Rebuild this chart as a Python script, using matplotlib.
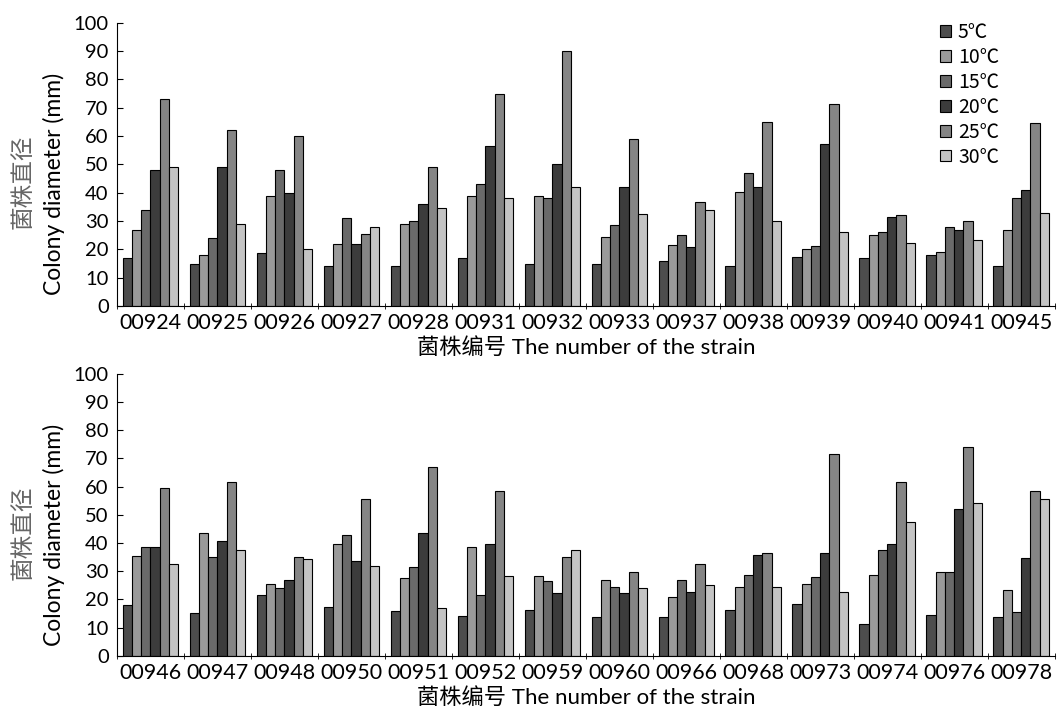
import matplotlib
matplotlib.use("Agg")
import matplotlib.pyplot as plt
import numpy as np

plt.rcParams['font.family'] = ['Lato', 'Noto Sans CJK SC', 'DejaVu Sans']

temps = ['5℃', '10℃', '15℃', '20℃', '25℃', '30℃']
colors = ['#4d4d4d', '#9a9a9a', '#6a6a6a', '#3c3c3c', '#858585', '#c4c4c4']

# top panel
strains_top = ['00924', '00925', '00926', '00927', '00928', '00931', '00932',
               '00933', '00937', '00938', '00939', '00940', '00941', '00945']
t5_top = [17, 15, 18.6, 14, 14, 17, 15, 15, 16, 14, 17.4, 17, 18, 14]
t10_top = [27, 18, 39, 22, 29, 39, 39, 24.5, 21.5, 40.2, 20, 25, 19, 27]
t15_top = [34, 24, 48, 31, 30, 43, 38, 28.5, 25, 47, 21.4, 26, 28, 38]
t20_top = [48, 49, 40, 22, 36, 56.5, 50, 42, 21, 42, 57.4, 31.5, 27, 41]
t25_top = [73, 62, 60, 25.3, 49, 75, 90, 59, 36.7, 65, 71.5, 32, 30, 64.5]
t30_top = [49, 29, 20, 28, 34.6, 38, 42, 32.4, 34, 30.2, 26, 22.2, 23.5, 33]

# bottom panel
strains_bot = ['00946', '00947', '00948', '00950', '00951', '00952', '00959',
               '00960', '00966', '00968', '00973', '00974', '00976', '00978']
t5_bot = [18, 15, 21.4, 17.4, 15.8, 14.2, 16.3, 13.6, 13.6, 16.4, 18.3, 11.3, 14.5, 13.6]
t10_bot = [35.5, 43.4, 25.4, 39.8, 27.4, 38.4, 28.4, 27, 20.8, 24.3, 25.4, 28.7, 29.7, 23.4]
t15_bot = [38.5, 35, 24, 42.8, 31.6, 21.4, 26.6, 24.3, 27, 28.7, 28, 37.6, 29.7, 15.4]
t20_bot = [38.5, 40.8, 27, 33.7, 43.7, 39.8, 22.3, 22.3, 22.5, 35.8, 36.6, 39.7, 52, 34.5]
t25_bot = [59.6, 61.5, 35, 55.6, 66.9, 58.5, 35, 29.6, 32.4, 36.5, 71.6, 61.5, 73.9, 58.6]
t30_bot = [32.5, 37.6, 34.4, 31.9, 16.8, 28.4, 37.6, 24.2, 25.2, 24.3, 22.5, 47.6, 54, 55.6]

fig = plt.figure(figsize=(10.57, 7.12), dpi=100)
ax1 = fig.add_axes([0.1107, 0.570, 0.887, 0.398])
ax2 = fig.add_axes([0.1107, 0.079, 0.887, 0.396])

def draw(ax, strains, series):
    x = np.arange(len(strains))
    w = 0.138
    for i, vals in enumerate(series):
        ax.bar(x + (i - 2.5) * w, vals, w, color=colors[i], edgecolor='black',
               linewidth=0.8, label=temps[i])
    ax.set_xlim(-0.5, len(strains) - 0.5)
    ax.set_ylim(0, 100)
    ax.set_yticks(range(0, 101, 10))
    ax.set_xticks(x)
    ax.set_xticklabels(strains, fontsize=15.5)
    ax.set_xticks(np.arange(len(strains) + 1) - 0.5, minor=True)
    ax.tick_params(axis='x', which='major', length=0, pad=5)
    ax.tick_params(axis='x', which='minor', length=4, direction='inout')
    ax.tick_params(axis='y', direction='in', length=4, labelsize=14.5, pad=6)
    for s in ['top', 'right']:
        ax.spines[s].set_visible(False)
    ax.set_xlabel('菌株编号 The number of the strain', fontsize=16, labelpad=3)

draw(ax1, strains_top, [t5_top, t10_top, t15_top, t20_top, t25_top, t30_top])
draw(ax2, strains_bot, [t5_bot, t10_bot, t15_bot, t20_bot, t25_bot, t30_bot])

# y labels: chinese line and english line
for y_c in [0.745, 0.252]:
    fig.text(0.022, y_c, '菌株直径', rotation=90, ha='center', va='center',
             fontsize=17, color='#666666', family=['Noto Sans CJK SC'])
    fig.text(0.051, y_c - 0.004, 'Colony diameter (mm)', rotation=90, ha='center',
             va='center', fontsize=16.5)

ax1.legend(loc='upper left', bbox_to_anchor=(0.87, 1.03), frameon=False,
           prop={'family': ['Noto Sans CJK SC'], 'size': 14},
           handlelength=0.55, handleheight=0.55, handletextpad=0.35,
           labelspacing=0.2, borderaxespad=0)

fig.savefig('out.png', dpi=100)
